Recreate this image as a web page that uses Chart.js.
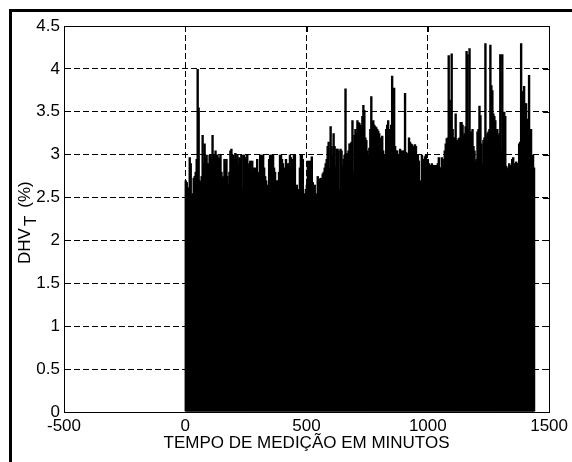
<!DOCTYPE html>
<html>
<head>
<meta charset="utf-8">
<script src="https://cdn.jsdelivr.net/npm/chart.js@4"></script>
<style>
  html, body { margin: 0; padding: 0; background: #fff; overflow: hidden; }
  #wrap { width: 572px; height: 462px; position: relative; overflow: hidden; }
  canvas { display: block; }
</style>
</head>
<body>
<div id="wrap"><canvas id="c" width="572" height="462"></canvas></div>
<script>
// DHV_T (%) per ~4-minute interval over 1440 minutes
const dhvT = [
  2.7, 2.68, 2.62, 2.6, 2.97, 2.9, 2.52, 2.55, 2.73, 2.75,
  2.8, 2.95, 4.0, 3.55, 2.7, 2.68, 2.75, 3.23, 2.9, 3.13,
  2.95, 3.0, 2.9, 2.9, 3.0, 3.0, 2.95, 3.23, 3.0, 2.98,
  3.05, 3.0, 3.0, 2.97, 2.95, 3.0, 2.8, 2.73, 2.75, 2.95,
  2.9, 2.95, 2.75, 2.65, 2.8, 3.05, 3.07, 3.0, 3.0, 2.95,
  3.02, 2.95, 3.0, 2.9, 2.97, 2.95, 3.0, 2.6, 3.0, 3.0,
  2.97, 2.95, 3.0, 2.85, 2.9, 2.93, 2.8, 2.93, 2.85, 2.8,
  2.85, 2.75, 2.95, 2.75, 2.8, 3.0, 3.0, 2.98, 3.0, 2.85,
  2.75, 2.7, 2.6, 2.65, 2.95, 3.0, 3.0, 3.0, 3.0, 2.85,
  2.8, 2.62, 2.7, 2.7, 2.8, 3.0, 3.0, 2.95, 2.9, 2.78,
  2.85, 2.95, 2.65, 2.9, 2.9, 3.0, 2.97, 2.95, 2.9, 3.0,
  3.0, 2.6, 2.65, 2.45, 2.6, 2.85, 3.0, 3.0, 2.95, 2.55,
  2.35, 2.6, 2.65, 2.93, 2.9, 2.93, 2.85, 2.98, 2.68, 2.62,
  2.65, 2.55, 2.5, 2.75, 2.72, 2.7, 2.73, 2.7, 2.78, 2.8,
  2.85, 2.9, 2.95, 3.1, 3.15, 2.85, 3.33, 3.1, 3.0, 3.25,
  3.1, 2.87, 3.07, 3.07, 3.05, 2.6, 3.07, 3.05, 2.87, 2.95,
  3.0, 3.77, 3.02, 3.0, 3.05, 3.13, 3.13, 3.15, 3.4, 2.8,
  3.23, 3.3, 3.25, 3.4, 3.38, 3.37, 3.35, 3.3, 3.45, 3.58,
  3.52, 3.2, 3.17, 3.05, 3.0, 3.08, 3.3, 3.68, 3.38, 3.4,
  3.35, 3.33, 3.32, 3.3, 3.28, 3.25, 3.2, 3.15, 3.22, 3.05,
  3.0, 2.72, 3.3, 3.35, 3.4, 3.25, 3.3, 3.35, 3.92, 3.3,
  3.78, 3.1, 3.05, 3.05, 3.0, 2.93, 3.07, 3.05, 2.93, 3.05,
  3.05, 3.72, 3.03, 3.02, 3.0, 3.2, 3.15, 3.13, 3.12, 3.1,
  3.05, 3.12, 3.1, 3.0, 3.0, 2.93, 2.7, 2.67, 3.0, 2.95,
  2.88, 2.98, 3.0, 2.95, 2.95, 2.9, 2.88, 2.88, 2.9, 2.87,
  2.88, 2.88, 2.32, 2.88, 2.9, 2.97, 2.85, 2.85, 2.97, 2.95,
  2.85, 3.05, 3.13, 3.19, 3.2, 4.16, 3.64, 3.4, 4.18, 3.3,
  3.2, 3.2, 3.48, 3.17, 3.17, 3.19, 3.2, 3.38, 3.38, 3.35,
  3.23, 3.25, 3.33, 4.21, 4.17, 3.3, 4.24, 3.27, 3.27, 3.3,
  3.1, 3.05, 2.92, 2.95, 3.27, 3.3, 3.57, 3.46, 3.13, 2.9,
  3.17, 3.2, 4.3, 3.2, 3.25, 3.27, 3.3, 4.28, 3.81, 3.75,
  3.48, 3.45, 3.4, 3.27, 3.3, 3.22, 3.25, 4.17, 3.05, 4.17,
  3.49, 3.5, 3.45, 2.87, 2.85, 2.8, 2.9, 2.88, 2.88, 2.95,
  2.97, 2.88, 2.9, 2.92, 2.9, 2.9, 3.13, 3.15, 4.3, 3.74,
  3.74, 3.8, 3.6, 3.6, 3.42, 3.4, 3.93, 3.3, 3.3, 2.93,
  3.0, 2.85
];
const totalMinutes = 1440;
const xTickValues = [-500, 0, 500, 1000, 1500];
const yTickValues = [0, 0.5, 1, 1.5, 2, 2.5, 3, 3.5, 4, 4.5];
const xTitle = 'TEMPO DE MEDIÇÃO EM MINUTOS';
const yTitleMain = 'DHV';
const yTitleSub = 'T';
const yTitleUnit = '(%)';

const FONT = 'Liberation Sans, Arial, sans-serif';
const FS = 17;
const step = totalMinutes / dhvT.length;
const points = dhvT.map((v, i) => ({ x: (i + 0.5) * step, y: v }));

const framePlugin = {
  id: 'frame',
  beforeDraw(chart) {
    const ctx = chart.ctx;
    ctx.save();
    ctx.fillStyle = '#fff';
    ctx.fillRect(0, 0, chart.width, chart.height);
    ctx.fillStyle = '#000';
    ctx.fillRect(9, 9, chart.width - 9, 3);
    ctx.fillRect(9, 9, 3, chart.height - 9);
    ctx.restore();
  },
  afterDraw(chart) {
    const ctx = chart.ctx;
    const a = chart.chartArea;
    const xs = chart.scales.x, ys = chart.scales.y;
    ctx.save();
    ctx.strokeStyle = '#000';
    ctx.lineWidth = 1;
    ctx.strokeRect(Math.round(a.left) + 0.5, Math.round(a.top) + 0.5,
                   Math.round(a.right - a.left), Math.round(a.bottom - a.top));
    ctx.beginPath();
    yTickValues.forEach(v => {
      const y = Math.round(ys.getPixelForValue(v)) + 0.5;
      ctx.moveTo(a.right - 6, y); ctx.lineTo(a.right, y);
    });
    xTickValues.forEach(v => {
      const x = Math.round(xs.getPixelForValue(v)) + 0.5;
      ctx.moveTo(x, a.top); ctx.lineTo(x, a.top + 6);
    });
    ctx.stroke();
    // y title with subscript
    ctx.translate(24, 264);
    ctx.rotate(-Math.PI / 2);
    ctx.fillStyle = '#000';
    ctx.textBaseline = 'alphabetic';
    ctx.textAlign = 'left';
    ctx.font = FS + 'px ' + FONT;
    ctx.fillText(yTitleMain, 0, 6);
    let w = ctx.measureText(yTitleMain).width;
    ctx.fillText(yTitleSub, w + 2, 12);
    w += ctx.measureText(yTitleSub).width + 2 + 8;
    ctx.fillText(yTitleUnit, w, 6);
    ctx.restore();
  }
};

new Chart(document.getElementById('c'), {
  type: 'bar',
  data: {
    datasets: [{
      data: points,
      backgroundColor: '#000',
      borderWidth: 0,
      categoryPercentage: 1,
      barPercentage: 2.4
    }]
  },
  options: {
    responsive: false,
    animation: false,
    events: [],
    layout: { padding: { top: 26, right: 20, left: 0, bottom: 0 } },
    plugins: { legend: { display: false }, tooltip: { enabled: false }, title: { display: false } },
    scales: {
      x: {
        type: 'linear',
        offset: false,
        min: -500, max: 1500,
        afterBuildTicks: s => { s.ticks = xTickValues.map(v => ({ value: v })); },
        afterFit: s => { s.height = 50; },
        ticks: { color: '#000', font: { family: FONT, size: FS }, padding: 4, maxRotation: 0,
                 callback: v => String(v) },
        grid: { color: '#000', lineWidth: 1, drawTicks: false, offset: false },
        border: { display: true, color: '#000', width: 1, dash: [6, 3] },
        title: { display: true, text: xTitle, color: '#000', font: { family: FONT, size: FS },
                 padding: { top: 0, bottom: 8 } }
      },
      y: {
        min: 0, max: 4.5,
        afterBuildTicks: s => { s.ticks = yTickValues.map(v => ({ value: v })); },
        afterFit: s => { s.width = 64; },
        ticks: { color: '#000', font: { family: FONT, size: FS }, padding: 4,
                 callback: v => String(v) },
        grid: { color: '#000', lineWidth: 1, drawTicks: false },
        border: { display: true, color: '#000', width: 1, dash: [6, 3] }
      }
    }
  },
  plugins: [framePlugin]
});
</script>
</body>
</html>
